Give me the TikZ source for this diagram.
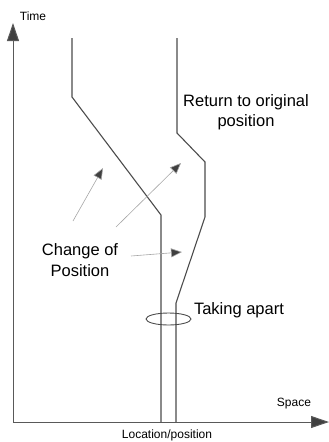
\documentclass[tikz,border=0pt]{standalone}
\usepackage{fontspec}
\setmainfont{Liberation Sans}
\usetikzlibrary{arrows.meta}
\begin{document}
\begin{tikzpicture}[x=1pt,y=-1pt,
  path/.style={draw=black!70,line width=1.1pt},
  axis/.style={draw=black!65,line width=1pt,-{Triangle[length=18pt,width=12pt,fill=black!75]}},
  pointer/.style={draw=black!35,line width=0.6pt,-{Triangle[length=11pt,width=9pt,fill=black!75]}},
  big/.style={font=\fontsize{16.5}{20.5}\selectfont,align=center,inner sep=0pt},
  small/.style={font=\fontsize{12}{14}\selectfont,inner sep=0pt}]
\useasboundingbox (0,0) rectangle (329,442);
% axes
\coordinate (O) at (13,422);
\coordinate (T) at (13,23);
\coordinate (S) at (329,422);
\draw[axis] (O) -- (T);
\draw[axis] (O) -- (S);
\node[small] (time) at (33,16) {Time};
\node[small] (space) at (294,404) {Space};
\node[small] (loc) at (167,435) {Location/position};
% path 1
\coordinate (a1) at (72,38);
\coordinate (a2) at (72,97);
\coordinate (a3) at (161,215);
\coordinate (a4) at (161,422);
\draw[path] (a1) -- (a2) -- (a3) -- (a4);
% path 2
\coordinate (b1) at (177,38);
\coordinate (b2) at (177,133);
\coordinate (b3) at (205,162);
\coordinate (b4) at (205,217);
\coordinate (b5) at (176,303);
\coordinate (b6) at (176,422);
\draw[path] (b1) -- (b2) -- (b3) -- (b4) -- (b5) -- (b6);
% ellipse
\draw[path,line width=0.9pt] (168.5,319) ellipse [x radius=22.5,y radius=6];
\node[big] (take) at (239,310) {Taking apart};
\node[big] (ret) at (246,112) {Return to original\\position};
\node[big] (chg) at (80,260) {Change of\\Position};
% pointers
\coordinate (p1s) at (73,221);
\coordinate (p1e) at (103,168);
\coordinate (p2s) at (116,227);
\coordinate (p2e) at (181,163);
\coordinate (p3s) at (131,256);
\coordinate (p3e) at (182,252);
\draw[pointer] (p1s) -- (p1e);
\draw[pointer] (p2s) -- (p2e);
\draw[pointer] (p3s) -- (p3e);
\end{tikzpicture}
\end{document}
